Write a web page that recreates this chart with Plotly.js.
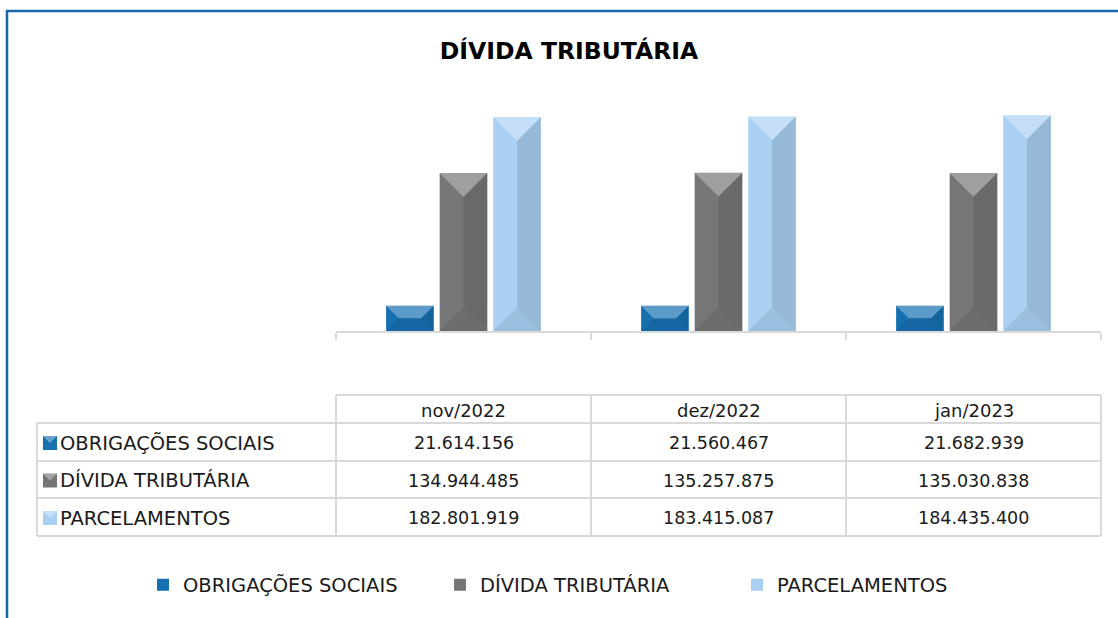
<!DOCTYPE html>
<html>
<head>
<meta charset="utf-8">
<script src="https://cdn.plot.ly/plotly-3.0.1.min.js"></script>
<style>
  html, body { margin: 0; padding: 0; background: #ffffff; }
  #chart { width: 1118px; height: 618px; }
</style>
</head>
<body>
<div id="chart"></div>
<script>
// ---- data ----
const months = ["nov/2022", "dez/2022", "jan/2023"];
const seriesNames = ["OBRIGAÇÕES SOCIAIS", "DÍVIDA TRIBUTÁRIA", "PARCELAMENTOS"];
const obrigacoesSociais = [21614156, 21560467, 21682939];
const dividaTributaria = [134944485, 135257875, 135030838];
const parcelamentos = [182801919, 183415087, 184435400];
const chartTitle = "DÍVIDA TRIBUTÁRIA";

// ---- styling / geometry ----
const W = 1118, H = 618;
const M = { l: 336, r: 17, t: 97, b: 287 };
const plotW = W - M.l - M.r, plotH = H - M.t - M.b;
const yMax = 200000000;
const bargap = 0.37, bargroupgap = 0.11;
const colors = ["#1670B0", "#767678", "#A9D0F2"];
const FONT = "DejaVu Sans";
const gridColor = "#D9D9D9";
const borderColor = "#1468A8";
const textColor = "#1a1a1a";

const allSeries = [obrigacoesSociais, dividaTributaria, parcelamentos];

const px2x = p => (p - M.l) / plotW;
const py2y = p => (H - M.b - p) / plotH;

function fmtBR(v) {
  return String(Math.round(v)).replace(/\B(?=(\d{3})+(?!\d))/g, ".");
}

const traces = allSeries.map((vals, s) => ({
  type: "bar",
  name: seriesNames[s],
  x: months,
  y: vals,
  marker: { color: colors[s], line: { width: 0 } },
  hovertemplate: "%{x}<br>" + seriesNames[s] + ": %{y:,.0f}<extra></extra>"
}));

const shapes = [];
const annotations = [];

// bevel overlays computed from the data through the axes
const catW = plotW / months.length;
const groupW = 1 - bargap;
const slot = groupW / allSeries.length;
const barPx = catW * slot * (1 - bargroupgap);
allSeries.forEach((vals, s) => {
  vals.forEach((v, i) => {
    const xc = i - groupW / 2 + (s + 0.5) * slot;
    const h = v / yMax * plotH;
    const w2 = barPx / 2;
    const d = Math.min(w2, h / 2);
    const base = { type: "path", xref: "x", yref: "y", xsizemode: "pixel", ysizemode: "pixel",
                   xanchor: xc, yanchor: v, line: { width: 0 }, layer: "above" };
    shapes.push(Object.assign({}, base, {
      path: `M${-w2},0 L${w2},0 L${w2 - d},${-d} L${-w2 + d},${-d} Z`,
      fillcolor: "rgba(255,255,255,0.30)"
    }));
    shapes.push(Object.assign({}, base, {
      path: `M${w2},0 L${w2},${-h} L${w2 - d},${-h + d} L${w2 - d},${-d} Z`,
      fillcolor: "rgba(0,0,0,0.11)"
    }));
    shapes.push(Object.assign({}, base, {
      path: `M${-w2},${-h} L${w2},${-h} L${w2 - d},${-h + d} L${-w2 + d},${-h + d} Z`,
      fillcolor: "rgba(0,0,0,0.08)"
    }));
  });
});

// ---- data table ----
const tLeft = 37, tColX = [336, 591, 846, 1101];
const tRows = [395, 423, 461, 498, 536];
const line = { color: gridColor, width: 2 };
shapes.push({ type: "line", xref: "paper", yref: "paper", x0: px2x(tColX[0]), x1: px2x(tColX[3]), y0: py2y(tRows[0]), y1: py2y(tRows[0]), line });
for (let r = 1; r < tRows.length; r++) {
  shapes.push({ type: "line", xref: "paper", yref: "paper", x0: px2x(tLeft), x1: px2x(tColX[3]), y0: py2y(tRows[r]), y1: py2y(tRows[r]), line });
}
shapes.push({ type: "line", xref: "paper", yref: "paper", x0: px2x(tLeft), x1: px2x(tLeft), y0: py2y(tRows[1]), y1: py2y(tRows[4]), line });
tColX.forEach(cx => {
  shapes.push({ type: "line", xref: "paper", yref: "paper", x0: px2x(cx), x1: px2x(cx), y0: py2y(tRows[0]), y1: py2y(tRows[4]), line });
});
months.forEach((m, i) => {
  annotations.push({ text: m, xref: "x", yref: "paper", x: i, y: py2y((tRows[0] + tRows[1]) / 2 + 1),
    showarrow: false, xanchor: "center", yanchor: "middle", font: { family: FONT, size: 18, color: textColor } });
});
allSeries.forEach((vals, s) => {
  const rc = (tRows[s + 1] + tRows[s + 2]) / 2 + 1;
  shapes.push({ type: "rect", xref: "paper", yref: "paper", x0: px2x(43), x1: px2x(57), y0: py2y(rc - 7), y1: py2y(rc + 7),
    fillcolor: colors[s], line: { width: 0 } });
  shapes.push({ type: "path", xref: "paper", yref: "paper",
    path: `M${px2x(43)},${py2y(rc - 7)} L${px2x(57)},${py2y(rc - 7)} L${px2x(50)},${py2y(rc)} Z`,
    fillcolor: "rgba(255,255,255,0.35)", line: { width: 0 } });
  annotations.push({ text: seriesNames[s], xref: "paper", yref: "paper", x: px2x(58), y: py2y(rc),
    showarrow: false, xanchor: "left", yanchor: "middle", font: { family: FONT, size: 19.5, color: textColor } });
  vals.forEach((v, i) => {
    annotations.push({ text: fmtBR(v), xref: "x", yref: "paper", x: i, y: py2y(rc),
      showarrow: false, xanchor: "center", yanchor: "middle", font: { family: FONT, size: 17.5, color: textColor } });
  });
});

// outer frame (top and left edges)
shapes.push({ type: "line", xref: "paper", yref: "paper", x0: px2x(6), x1: px2x(1118), y0: py2y(11), y1: py2y(11), line: { color: borderColor, width: 2.5 } });
shapes.push({ type: "line", xref: "paper", yref: "paper", x0: px2x(7), x1: px2x(7), y0: py2y(10), y1: py2y(618), line: { color: borderColor, width: 2.5 } });

const layout = {
  width: W, height: H,
  margin: M,
  paper_bgcolor: "#ffffff",
  plot_bgcolor: "#ffffff",
  title: { text: "<b>" + chartTitle + "</b>", x: 569 / W, y: 1 - 51 / H, xanchor: "center", yanchor: "middle",
           font: { family: FONT, size: 23.5, color: "#000000" } },
  barmode: "group",
  bargap: bargap,
  bargroupgap: bargroupgap,
  xaxis: {
    type: "category",
    showline: true, linecolor: gridColor, linewidth: 2,
    ticks: "outside", tickson: "boundaries", ticklen: 7, tickcolor: gridColor, tickwidth: 2,
    showticklabels: false, showgrid: false, zeroline: false, fixedrange: true
  },
  yaxis: { range: [0, yMax], visible: false, showgrid: false, zeroline: false, fixedrange: true },
  showlegend: true,
  legend: {
    orientation: "h", x: px2x(143), xanchor: "left", y: py2y(585), yanchor: "middle",
    entrywidth: 252, entrywidthmode: "pixels", itemwidth: 30,
    font: { family: FONT, size: 19.5, color: textColor }, bgcolor: "rgba(0,0,0,0)"
  },
  shapes: shapes,
  annotations: annotations
};

Plotly.newPlot("chart", traces, layout, { displayModeBar: false });
</script>
</body>
</html>
